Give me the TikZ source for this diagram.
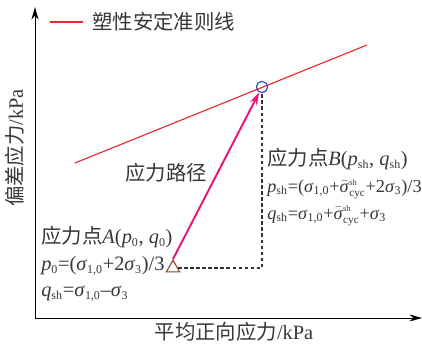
\documentclass[tikz,border=0pt]{standalone}
\usepackage{fontspec}
\setmainfont{Liberation Serif}
\newfontfamily\cjk{Noto Sans CJK SC}
\usetikzlibrary{arrows.meta,shapes.geometric}
\definecolor{critred}{RGB}{235,40,45}
\definecolor{pathpink}{RGB}{232,22,120}
\definecolor{ptblue}{RGB}{40,70,175}
\definecolor{ptbrown}{RGB}{140,72,40}
\definecolor{txtgray}{RGB}{55,55,55}
% italic variable with small upright index
\newcommand{\vr}[2]{\textit{#1}$_{\mbox{\fontsize{8.5}{9}\selectfont #2}}$}
\newcommand{\sbar}{$\bar{\mbox{\textit{σ}}}^{\mbox{\fontsize{6}{6}\selectfont sh}}_{\mbox{\fontsize{8}{9}\selectfont cyc}}$}
\begin{document}
\begin{tikzpicture}[x=0.025cm,y=0.025cm, every node/.style={font=\fontsize{14.5}{19}\selectfont, text=txtgray},
    axis/.style={line width=0.7pt, -{Stealth[length=9pt,width=5pt]}},
    critline/.style={critred, line width=0.8pt},
    pathline/.style={pathpink, line width=1.4pt, -{Stealth[length=9pt,width=5.5pt]}},
    guide/.style={black!80, dash pattern=on 2.5pt off 1.8pt, line width=0.8pt}]
    \useasboundingbox (0,0) rectangle (422,348);
    % axes
    \coordinate (o) at (35,30);
    \coordinate (ytop) at (35,341);
    \coordinate (xend) at (422,30);
    \draw[axis] (o) -- (ytop);
    \draw[axis] (o) -- (xend);
    \node at (234,16){{\cjk 平均正向应力}/kPa};
    \node[rotate=90] at (15,200){{\cjk 偏差应力}/kPa};
    % legend
    \coordinate (lg1) at (50,326);
    \coordinate (lg2) at (83,326);
    \draw[critline] (lg1) -- (lg2);
    \node[anchor=west, inner sep=0pt] at (92,326){\cjk 塑性安定准则线};
    % criterion line and points
    \coordinate (c1) at (75,185);
    \coordinate (c2) at (367,303);
    \draw[critline] (c1) -- (c2);
    \node[draw=ptbrown, line width=0.8pt, regular polygon, regular polygon sides=3,
          minimum size=11pt, inner sep=0pt] (A) at (173,80){};
    \node[draw=ptblue, line width=0.8pt, circle, minimum size=8pt, inner sep=0pt] (B) at (262,261){};
    \draw[guide] (A) -| (B);
    \draw[pathline] (A.corner 1) -- (B);
    \node at (166,175){\cjk 应力路径};
    % labels
    \node[anchor=west, align=left, inner sep=0pt] at (267,161){%
        {\cjk 应力点}\textit{B}(\vr{p}{sh}, \vr{q}{sh})\\
        {\fontsize{13}{19}\selectfont\vr{p}{sh}=(\vr{σ}{1,0}+\sbar+2\vr{σ}{3})/3}\\
        {\fontsize{13}{19}\selectfont\vr{q}{sh}=\vr{σ}{1,0}+\sbar+\vr{σ}{3}}};
    \node[anchor=west, align=left, inner sep=0pt] at (41,84){%
        {\cjk 应力点}\textit{A}(\vr{p}{0}, \vr{q}{0})\\
        \vr{p}{0}=(\vr{σ}{1,0}+2\vr{σ}{3})/3\\
        \vr{q}{sh}=\vr{σ}{1,0}\textendash\vr{σ}{3}};
\end{tikzpicture}
\end{document}
